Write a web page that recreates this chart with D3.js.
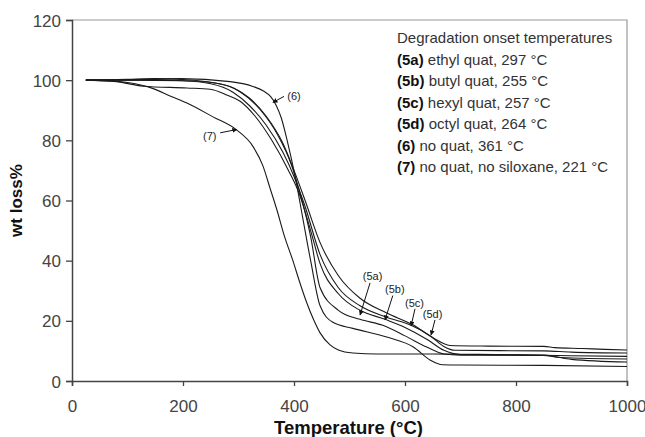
<!DOCTYPE html>
<html>
<head>
<meta charset="utf-8">
<script src="https://cdn.jsdelivr.net/npm/d3@7"></script>
<style>
  body { margin: 0; background: #fff; }
  svg { display: block; font-family: "Liberation Sans", Arial, sans-serif; }
</style>
</head>
<body>
<svg width="645" height="437"></svg>
<script>
// TGA curves, [temperature (C), wt%]
var curve5a = [[25,100],[100,100],[200,99.8],[260,99],[300,96.5],[340,90],[370,82],[395,72],[410,63],[430,48],[447,31],[480,23.5],[519,20.5],[560,18.5],[600,15],[640,11.2],[670,9],[700,8.6],[850,8.5],[900,7.2],[1000,6.3]];
var curve5b = [[25,100],[80,99.5],[128,98],[207,97.4],[249,97],[280,95],[303,93],[330,88],[360,80],[390,70],[410,62],[430,50],[447,39],[480,29],[519,23.5],[564,20.5],[600,17.8],[640,13.8],[670,10.2],[700,8.8],[850,8.6],[880,7.8],[1000,7.3]];
var curve5c = [[25,100],[100,100.2],[200,99.8],[250,98.8],[290,96],[320,91.5],[350,85],[380,76],[400,68],[420,58],[447,42],[480,31],[519,25],[567,21.2],[611,18.5],[647,14.8],[670,11.5],[690,10.2],[850,10],[900,9.6],[1000,9.3]];
var curve5d = [[25,100],[100,100.3],[150,100.5],[200,100.2],[250,99.3],[290,97.5],[320,94],[350,88],[380,79],[400,70],[420,60],[447,46],[480,35],[519,27.5],[567,22.6],[615,18.6],[651,14.3],[681,11.8],[750,11.6],[850,11.5],[870,11.1],[920,10.8],[960,10.5],[1000,10.3]];
var curve6 = [[25,100],[100,100],[195,100.5],[285,99.5],[326,97.9],[345,96.4],[358,94.5],[368,91.6],[377,87.5],[387,80.5],[402,68],[415,55],[430,40],[447,25],[470,19.5],[506,17.5],[567,14.6],[615,11.3],[645,7],[668,5.4],[700,5.3],[850,5.2],[1000,4.8]];
var curve7 = [[25,100],[60,99.8],[100,99.2],[140,97.6],[180,94.5],[207,92.4],[254,87.8],[297,83.4],[326,78],[344,71.5],[357,64],[369,57],[383,48],[398,40],[410,33],[423,26],[435,20.5],[447,16],[465,12],[480,10.3],[506,9.3],[550,9],[650,9],[700,8.9],[800,8.7],[900,8.4],[1000,8.2]];
var allCurves = [curve5a, curve5b, curve5c, curve5d, curve6, curve7];

var xTicks = [0, 200, 400, 600, 800, 1000];
var yTicks = [0, 20, 40, 60, 80, 100, 120];

// legend lines: bold code + description
var legendTitle = "Degradation onset temperatures";
var legendCodes = ["(5a)", "(5b)", "(5c)", "(5d)", "(6)", "(7)"];
var legendTexts = [" ethyl quat, 297 °C", " butyl quat, 255 °C", " hexyl quat, 257 °C", " octyl quat, 264 °C", " no quat,  361 °C", " no quat, no siloxane, 221 °C"];

// curve labels: text anchor point and arrow start/tip in data units
var noteLabels = ["(6)", "(7)", "(5a)", "(5b)", "(5c)", "(5d)"];
var noteText = [[388,93.4],[236,80.1],[524,33.6],[564,29.3],[600,24.6],[632,20.9]];
var noteFrom = [[382,94.6],[267,82.5],[537,32.6],[578,28.4],[618,24.0],[654,20.3]];
var noteTip = [[362,92.6],[297,83.6],[519,21.9],[564,20.3],[611,18.3],[647,15.3]];

var svg = d3.select("svg"),
    margin = {top: 20, right: 18, bottom: 56, left: 72},
    width = +svg.attr("width") - margin.left - margin.right,
    height = +svg.attr("height") - margin.top - margin.bottom,
    g = svg.append("g").attr("transform", "translate(" + margin.left + "," + margin.top + ")");

var x = d3.scaleLinear().domain([0, 1000]).range([0, width]);
var y = d3.scaleLinear().domain([0, 120]).range([height, 0]);

svg.append("defs").append("marker")
  .attr("id", "arrow")
  .attr("viewBox", "0 0 10 10")
  .attr("refX", 9).attr("refY", 5)
  .attr("markerWidth", 5).attr("markerHeight", 5)
  .attr("orient", "auto")
  .append("path")
    .attr("d", "M0,0L10,5L0,10z")
    .attr("fill", "#111");

// frame (top and right)
g.append("path")
  .attr("d", "M0,0H" + width + "V" + height)
  .attr("fill", "none")
  .attr("stroke", "#999")
  .attr("stroke-width", 1.2);

// axes
var xAxis = g.append("g")
  .attr("transform", "translate(0," + height + ")")
  .call(d3.axisBottom(x).tickValues(xTicks).tickFormat(d3.format("d")).tickSize(5).tickPadding(14));
var yAxis = g.append("g")
  .call(d3.axisLeft(y).tickValues(yTicks).tickFormat(d3.format("d")).tickSize(6).tickPadding(5));

[xAxis, yAxis].forEach(function(a) {
  a.select(".domain").attr("stroke", "#444").attr("stroke-width", 1.5);
  a.selectAll(".tick line").attr("stroke", "#444").attr("stroke-width", 1.3);
  a.selectAll(".tick text")
    .attr("fill", "#444")
    .style("font-family", "'Liberation Sans', Arial, sans-serif")
    .style("font-size", "17px");
});
yAxis.selectAll(".tick text").attr("dy", "0.36em");

// axis titles
svg.append("text")
  .attr("x", margin.left + x(500) - 1)
  .attr("y", 434)
  .attr("text-anchor", "middle")
  .style("font-size", "18.5px")
  .style("font-weight", "bold")
  .attr("fill", "#111")
  .text("Temperature (°C)");

svg.append("text")
  .attr("transform", "translate(22," + (margin.top + y(60)) + ") rotate(-90)")
  .attr("text-anchor", "middle")
  .style("font-size", "17px")
  .style("font-weight", "bold")
  .attr("fill", "#111")
  .text("wt loss%");

// curves
var line = d3.line()
  .x(function(d) { return x(d[0]); })
  .y(function(d) { return y(d[1]); })
  .curve(d3.curveMonotoneX);

g.selectAll(".curve")
  .data(allCurves)
  .enter().append("path")
    .attr("class", "curve")
    .attr("d", line)
    .attr("fill", "none")
    .attr("stroke", "#1a1a1a")
    .attr("stroke-width", 1.1);

// labels with arrows
g.selectAll(".note-line")
  .data(noteLabels)
  .enter().append("line")
    .attr("x1", function(d, i) { return x(noteFrom[i][0]); })
    .attr("y1", function(d, i) { return y(noteFrom[i][1]); })
    .attr("x2", function(d, i) { return x(noteTip[i][0]); })
    .attr("y2", function(d, i) { return y(noteTip[i][1]); })
    .attr("stroke", "#111")
    .attr("stroke-width", 1)
    .attr("marker-end", "url(#arrow)");

g.selectAll(".note")
  .data(noteLabels)
  .enter().append("text")
    .attr("x", function(d, i) { return x(noteText[i][0]); })
    .attr("y", function(d, i) { return y(noteText[i][1]); })
    .style("font-size", "11px")
    .attr("fill", "#222")
    .text(function(d) { return d; });

// legend
var legend = svg.append("g")
  .attr("transform", "translate(397,43)")
  .style("font-size", "15px")
  .attr("fill", "#333");

legend.append("text").text(legendTitle);

var rows = legend.selectAll(".row")
  .data(legendCodes)
  .enter().append("text")
    .attr("y", function(d, i) { return (i + 1) * 21.5; });
rows.append("tspan")
  .style("font-weight", "bold")
  .attr("fill", "#111")
  .text(function(d) { return d; });
rows.append("tspan")
  .text(function(d, i) { return legendTexts[i]; });
</script>
</body>
</html>
